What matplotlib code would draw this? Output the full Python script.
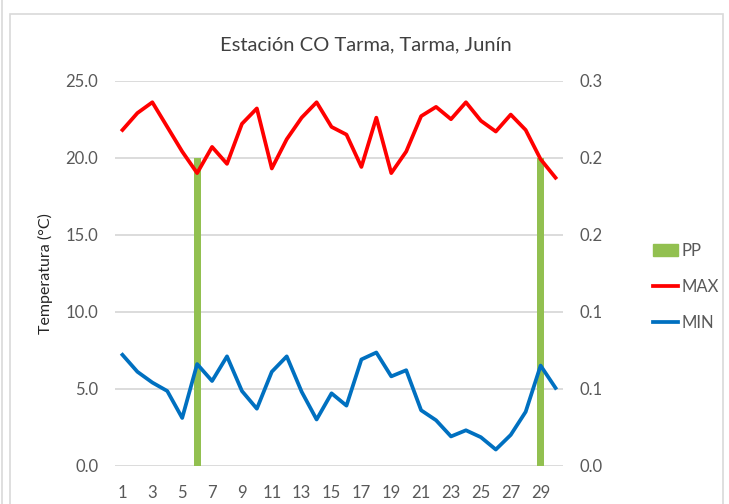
import matplotlib.pyplot as plt
from matplotlib.patches import Rectangle
from matplotlib.lines import Line2D

# Data
days = list(range(1, 31))
t_max = [21.8, 22.9, 23.6, 22.0, 20.4, 19.0, 20.7, 19.6, 22.2, 23.2,
         19.3, 21.2, 22.6, 23.6, 22.0, 21.5, 19.4, 22.6, 19.0, 20.4,
         22.7, 23.3, 22.5, 23.6, 22.4, 21.7, 22.8, 21.8, 19.9, 18.7]
t_min = [7.2, 6.1, 5.4, 4.85, 3.1, 6.6, 5.5, 7.1, 4.85, 3.7,
         6.1, 7.1, 4.8, 3.0, 4.7, 3.9, 6.9, 7.35, 5.8, 6.2,
         3.6, 2.95, 1.9, 2.3, 1.85, 1.05, 2.0, 3.5, 6.5, 5.05]
pp = [0, 0, 0, 0, 0, 0.2, 0, 0, 0, 0,
      0, 0, 0, 0, 0, 0, 0, 0, 0, 0,
      0, 0, 0, 0, 0, 0, 0, 0, 0.2, 0]
left_ticks = [0, 5, 10, 15, 20, 25]
left_labels = ["0.0", "5.0", "10.0", "15.0", "20.0", "25.0"]
right_ticks = [0, 0.05, 0.10, 0.15, 0.20, 0.25]
right_labels = ["0.0", "0.1", "0.1", "0.2", "0.2", "0.3"]

plt.rcParams['font.family'] = ['Lato', 'DejaVu Sans']
txt = '#595959'
grid = '#D9D9D9'

fig = plt.figure(figsize=(7.29, 5.04), dpi=100)
ax = fig.add_axes([115 / 729, 1 - 465.7 / 504, 448 / 729, 385 / 504])
ax2 = ax.twinx()

# bars on secondary axis, kept behind the lines
ax2.bar(days, pp, width=0.47, color='#92C050', label='PP')
ax.set_zorder(ax2.get_zorder() + 1)
ax.patch.set_visible(False)

ax.plot(days, t_max, color='#FF0000', lw=2.7, label='MAX', solid_joinstyle='round')
ax.plot(days, t_min, color='#0070C0', lw=2.7, label='MIN', solid_joinstyle='round')

ax.set_xlim(0.5, 30.5)
ax.set_ylim(0, 25)
ax2.set_ylim(0, 0.25)
ax.set_xticks(days[::2])
ax.set_yticks(left_ticks)
ax.set_yticklabels(left_labels)
ax2.set_yticks(right_ticks)
ax2.set_yticklabels(right_labels)

for a in (ax, ax2):
    for s in a.spines.values():
        s.set_visible(False)
    a.tick_params(length=0, labelsize=12, colors=txt, pad=12)
ax.tick_params(axis='x', pad=14)
ax2.tick_params(axis='y', pad=12)

for v in left_ticks:
    ax2.axhline(v / 100, color=grid, lw=1.3, zorder=0)

ax.set_ylabel('Temperatura (°C)', fontsize=11.5, color='#262626', labelpad=9)
fig.text(366 / 729, 1 - 45 / 504, 'Estación CO Tarma, Tarma, Junín',
         ha='center', va='center', fontsize=14.5, color='#404040')

handles = [Rectangle((0, 0), 1, 1, color='#92C050'),
           Line2D([], [], color='#FF0000', lw=2.7),
           Line2D([], [], color='#0070C0', lw=2.7)]
fig.legend(handles, ['PP', 'MAX', 'MIN'], loc='center left',
           bbox_to_anchor=(638 / 729, 1 - 287 / 504), frameon=False,
           fontsize=12, labelcolor=txt, handlelength=1.5, handletextpad=0.2,
           labelspacing=1.2)

# chart frame
fig.patches.append(Rectangle((10 / 729, -0.02), 712.5 / 729, 1.02 - 14 / 504,
                             transform=fig.transFigure, fill=False,
                             edgecolor=grid, lw=1.2))
fig.add_artist(Line2D([2 / 729, 2 / 729], [0, 1], transform=fig.transFigure,
                      color=grid, lw=1.2))

fig.savefig('out.png', dpi=100)
